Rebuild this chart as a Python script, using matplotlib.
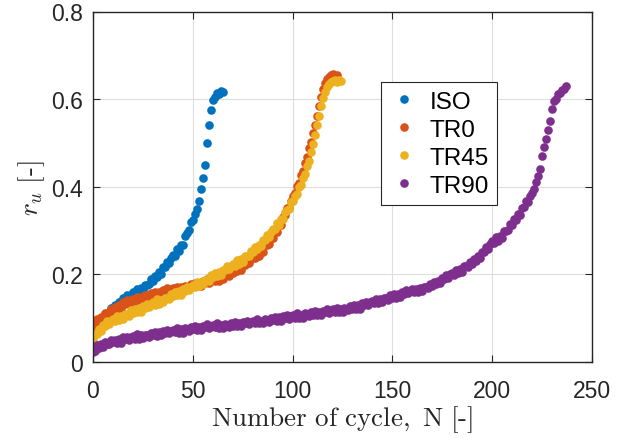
import numpy as np
import matplotlib
matplotlib.use("Agg")
import matplotlib.pyplot as plt

# Excess pore pressure ratio r_u per loading cycle, one value per cycle
iso = [0.056, 0.063, 0.084, 0.081, 0.096, 0.094, 0.109, 0.110, 0.111, 0.123,
       0.120, 0.131, 0.126, 0.136, 0.132, 0.145, 0.142, 0.153, 0.146, 0.154,
       0.159, 0.154, 0.167, 0.158, 0.169, 0.164, 0.176, 0.176, 0.177, 0.189,
       0.186, 0.197, 0.193, 0.205, 0.201, 0.216, 0.217, 0.229, 0.226, 0.237,
       0.244, 0.243, 0.258, 0.253, 0.267, 0.268, 0.288, 0.294, 0.301, 0.319,
       0.325, 0.337, 0.350, 0.368, 0.395, 0.420, 0.450, 0.500, 0.540, 0.576,
       0.598, 0.604, 0.614, 0.611, 0.619, 0.617]

tr0 = [0.084, 0.083, 0.098, 0.092, 0.103, 0.098, 0.111, 0.111, 0.110, 0.121,
       0.118, 0.126, 0.120, 0.130, 0.122, 0.136, 0.132, 0.141, 0.133, 0.141,
       0.143, 0.138, 0.149, 0.138, 0.148, 0.141, 0.152, 0.148, 0.147, 0.157,
       0.151, 0.160, 0.151, 0.160, 0.152, 0.164, 0.158, 0.168, 0.160, 0.165,
       0.169, 0.163, 0.172, 0.163, 0.171, 0.164, 0.173, 0.172, 0.169, 0.178,
       0.173, 0.181, 0.173, 0.181, 0.173, 0.184, 0.180, 0.189, 0.181, 0.187,
       0.190, 0.185, 0.195, 0.186, 0.195, 0.189, 0.200, 0.199, 0.197, 0.208,
       0.204, 0.213, 0.207, 0.216, 0.210, 0.223, 0.221, 0.231, 0.225, 0.234,
       0.240, 0.237, 0.250, 0.243, 0.255, 0.252, 0.266, 0.268, 0.269, 0.284,
       0.284, 0.298, 0.297, 0.312, 0.312, 0.331, 0.335, 0.351, 0.352, 0.367,
       0.378, 0.385, 0.402, 0.409, 0.427, 0.436, 0.455, 0.467, 0.489, 0.503,
       0.522, 0.542, 0.562, 0.584, 0.604, 0.623, 0.637, 0.646, 0.651, 0.654,
       0.657, 0.649, 0.655]

tr45 = [0.050, 0.065, 0.063, 0.076, 0.071, 0.084, 0.083, 0.093, 0.086, 0.094,
        0.099, 0.093, 0.105, 0.096, 0.106, 0.099, 0.110, 0.109, 0.106, 0.118,
        0.112, 0.121, 0.114, 0.123, 0.115, 0.128, 0.124, 0.133, 0.126, 0.132,
        0.137, 0.131, 0.143, 0.133, 0.142, 0.136, 0.147, 0.146, 0.144, 0.155,
        0.150, 0.159, 0.152, 0.161, 0.154, 0.166, 0.162, 0.171, 0.164, 0.171,
        0.175, 0.171, 0.182, 0.173, 0.183, 0.177, 0.188, 0.188, 0.186, 0.198,
        0.194, 0.203, 0.196, 0.206, 0.199, 0.211, 0.209, 0.218, 0.212, 0.220,
        0.224, 0.220, 0.232, 0.224, 0.234, 0.229, 0.241, 0.242, 0.241, 0.254,
        0.251, 0.262, 0.257, 0.268, 0.264, 0.278, 0.278, 0.290, 0.286, 0.296,
        0.304, 0.303, 0.318, 0.313, 0.327, 0.326, 0.342, 0.346, 0.349, 0.366,
        0.367, 0.380, 0.384, 0.399, 0.404, 0.421, 0.429, 0.448, 0.458, 0.480,
        0.497, 0.518, 0.540, 0.562, 0.585, 0.603, 0.617, 0.628, 0.634, 0.638,
        0.641, 0.643, 0.640, 0.644, 0.641]

tr90 = [0.022, 0.025, 0.038, 0.032, 0.040, 0.035, 0.046, 0.042, 0.041, 0.051,
        0.045, 0.051, 0.044, 0.053, 0.043, 0.056, 0.052, 0.058, 0.051, 0.057,
        0.060, 0.052, 0.063, 0.053, 0.061, 0.054, 0.062, 0.061, 0.058, 0.067,
        0.061, 0.069, 0.060, 0.068, 0.061, 0.070, 0.066, 0.074, 0.066, 0.071,
        0.074, 0.068, 0.077, 0.067, 0.075, 0.067, 0.077, 0.075, 0.071, 0.081,
        0.075, 0.082, 0.074, 0.081, 0.073, 0.083, 0.079, 0.086, 0.078, 0.082,
        0.085, 0.079, 0.088, 0.078, 0.084, 0.077, 0.087, 0.084, 0.081, 0.090,
        0.083, 0.091, 0.083, 0.090, 0.082, 0.092, 0.088, 0.094, 0.087, 0.092,
        0.094, 0.088, 0.098, 0.088, 0.094, 0.088, 0.098, 0.095, 0.092, 0.101,
        0.095, 0.103, 0.094, 0.102, 0.094, 0.104, 0.100, 0.108, 0.099, 0.105,
        0.108, 0.100, 0.111, 0.101, 0.108, 0.101, 0.111, 0.108, 0.105, 0.115,
        0.108, 0.116, 0.107, 0.115, 0.107, 0.117, 0.113, 0.121, 0.112, 0.118,
        0.120, 0.114, 0.124, 0.113, 0.121, 0.114, 0.124, 0.121, 0.118, 0.128,
        0.122, 0.130, 0.122, 0.130, 0.122, 0.134, 0.130, 0.138, 0.130, 0.137,
        0.140, 0.134, 0.144, 0.135, 0.143, 0.136, 0.146, 0.145, 0.142, 0.152,
        0.146, 0.155, 0.147, 0.155, 0.148, 0.159, 0.156, 0.164, 0.157, 0.163,
        0.166, 0.160, 0.167, 0.159, 0.168, 0.161, 0.172, 0.171, 0.168, 0.179,
        0.174, 0.183, 0.177, 0.186, 0.180, 0.192, 0.189, 0.199, 0.192, 0.200,
        0.204, 0.199, 0.211, 0.202, 0.212, 0.206, 0.218, 0.218, 0.216, 0.228,
        0.224, 0.235, 0.230, 0.241, 0.237, 0.252, 0.251, 0.263, 0.259, 0.269,
        0.276, 0.272, 0.285, 0.277, 0.288, 0.284, 0.298, 0.300, 0.301, 0.315,
        0.313, 0.326, 0.324, 0.338, 0.336, 0.352, 0.354, 0.368, 0.365, 0.378,
        0.385, 0.396, 0.410, 0.425, 0.440, 0.470, 0.490, 0.510, 0.530, 0.550,
        0.578, 0.596, 0.601, 0.611, 0.614, 0.621, 0.624, 0.631]

labels = ["ISO", "TR0", "TR45", "TR90"]
colors = ["#0072BD", "#D95319", "#EDB120", "#7E2F8E"]
xticks = [0, 50, 100, 150, 200, 250]
yticks = [0, 0.2, 0.4, 0.6, 0.8]

plt.rcParams["mathtext.fontset"] = "cm"
plt.rcParams["font.family"] = ["Liberation Sans", "DejaVu Sans"]

W, H = 626, 439
fig = plt.figure(figsize=(W / 100, H / 100), dpi=100)
ax = fig.add_axes([93 / W, 1 - 363 / H, (592 - 93) / W, (363 - 12.5) / H])

for vals, lab, col in zip([iso, tr0, tr45, tr90], labels, colors):
    cyc = np.arange(len(vals))
    ax.plot(cyc, vals, linestyle="none", marker="o", markersize=6.2,
            markeredgewidth=0, color=col, label=lab)

ax.set_xlim(0, 250)
ax.set_ylim(0, 0.8)
ax.set_xticks(xticks)
ax.set_yticks(yticks)
ax.set_xticklabels([f"{t:g}" for t in xticks])
ax.set_yticklabels([f"{t:g}" for t in yticks])

dark = "#262626"
ax.grid(True, color="#dedede", linewidth=0.8)
ax.set_axisbelow(True)
for s in ax.spines.values():
    s.set_color(dark)
    s.set_linewidth(1.0)
ax.tick_params(direction="in", length=5, width=0.8, colors=dark,
               top=True, right=True, labelsize=16.5)
ax.tick_params(axis="x", pad=12)
ax.tick_params(axis="y", pad=7)

ax.set_xlabel(r"$\mathrm{Number\ of\ cycle,\ N\ [\text{-}]}$", fontsize=19.5,
              color=dark, labelpad=1)
ax.set_ylabel(r"$r_u\ \mathrm{[\text{-}]}$", fontsize=19.5, color=dark, labelpad=3)

leg = ax.legend(loc="upper left", bbox_to_anchor=(381 / W, 1 - 83 / H),
                bbox_transform=fig.transFigure, fontsize=17.5, frameon=True,
                fancybox=False, framealpha=1, edgecolor=dark, borderpad=0.35,
                handlelength=1.2, handletextpad=0.45, labelspacing=0.25,
                borderaxespad=0, markerscale=1.0)
leg.get_frame().set_linewidth(0.8)

fig.savefig("out.png", dpi=100)
